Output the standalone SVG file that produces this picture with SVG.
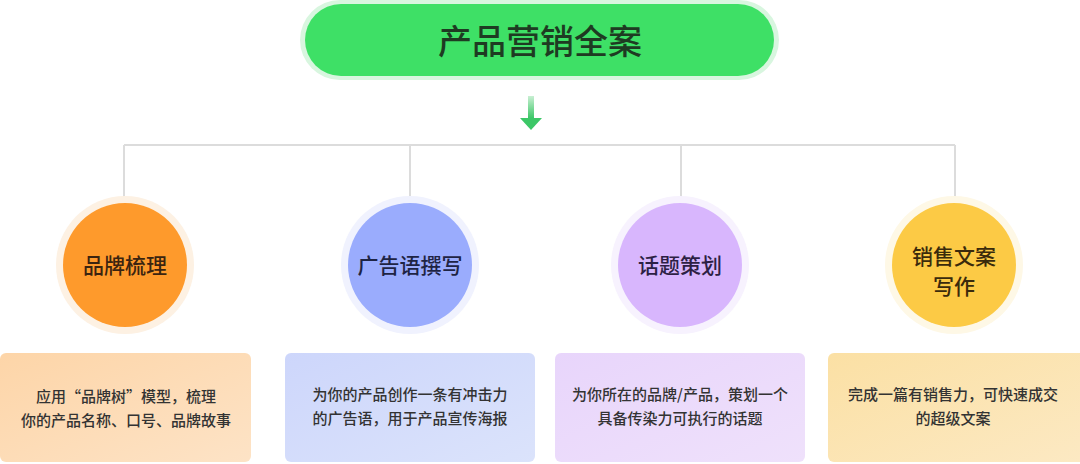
<svg xmlns="http://www.w3.org/2000/svg" width="1080" height="464" viewBox="0 0 1080 464">
<defs>
<style>
.cjk{font-family:"Noto Sans CJK SC","Noto Sans",sans-serif;}
.title{font-size:34px;font-weight:500;fill:#1e3b22;text-anchor:middle;}
.ctext{font-size:21px;font-weight:500;text-anchor:middle;}
.btext{font-size:15px;font-weight:500;fill:#333333;text-anchor:middle;}
.conn{stroke:#dcdcdc;stroke-width:2;fill:none;}
</style>
<linearGradient id="arrowG" x1="0" y1="0" x2="0" y2="1">
<stop offset="0" stop-color="#c9efd3"/>
<stop offset="1" stop-color="#3cc767"/>
</linearGradient>
<linearGradient id="b1" x1="0" y1="0" x2="1" y2="1">
<stop offset="0" stop-color="#fdd5a8"/>
<stop offset="1" stop-color="#fde3c6"/>
</linearGradient>
<linearGradient id="b2" x1="0" y1="0" x2="1" y2="1">
<stop offset="0" stop-color="#cdd6fb"/>
<stop offset="1" stop-color="#dbe3fb"/>
</linearGradient>
<linearGradient id="b3" x1="0" y1="0" x2="1" y2="1">
<stop offset="0" stop-color="#e8d5fb"/>
<stop offset="1" stop-color="#efe1fb"/>
</linearGradient>
<linearGradient id="b4" x1="0" y1="0" x2="1" y2="1">
<stop offset="0" stop-color="#fbe0a4"/>
<stop offset="1" stop-color="#fce9c3"/>
</linearGradient>
</defs>

<g id="connectors">
<path class="conn" d="M124,145 H955"/>
<path class="conn" d="M124,145 V198"/>
<path class="conn" d="M410,145 V198"/>
<path class="conn" d="M681,145 V198"/>
<path class="conn" d="M955,145 V198"/>
<g id="arrow">
<rect x="528" y="96" width="6" height="22" fill="url(#arrowG)"/>
<polygon points="520,118 542,118 531,130" fill="#3cc767"/>
</g>
</g>

<g id="title-node">
<rect x="300" y="0" width="479" height="80" rx="40" fill="#d8f6df"/>
<rect x="305" y="4" width="469" height="72" rx="36" fill="#3ee066"/>
<text class="cjk title" x="540" y="54">产品营销全案</text>
</g>

<g id="node-brand">
<circle cx="125" cy="265" r="69" fill="#fdf1e3"/>
<circle cx="125" cy="265" r="62" fill="#fe9a2c"/>
<text class="cjk ctext" x="125" y="273" fill="#3b2410">品牌梳理</text>
</g>
<g id="node-slogan">
<circle cx="410" cy="265" r="69" fill="#f0f2fe"/>
<circle cx="410" cy="265" r="62" fill="#9aacfd"/>
<text class="cjk ctext" x="410" y="273" fill="#1e2444">广告语撰写</text>
</g>
<g id="node-topic">
<circle cx="680" cy="265" r="69" fill="#f7f2fe"/>
<circle cx="680" cy="265" r="62" fill="#d8b6fd"/>
<text class="cjk ctext" x="680" y="273" fill="#2d1f44">话题策划</text>
</g>
<g id="node-sales">
<circle cx="954" cy="265" r="69" fill="#fef8e6"/>
<circle cx="954" cy="265" r="62" fill="#fcca45"/>
<text class="cjk ctext" x="954" y="264" fill="#3a2a0c">销售文案</text>
<text class="cjk ctext" x="954" y="294" fill="#3a2a0c">写作</text>
</g>

<g id="box-brand">
<rect x="0" y="353" width="251" height="109" rx="6" fill="url(#b1)"/>
<text class="cjk btext" x="126" y="402">应用“品牌树”模型，梳理</text>
<text class="cjk btext" x="126" y="426">你的产品名称、口号、品牌故事</text>
</g>
<g id="box-slogan">
<rect x="285" y="353" width="250" height="109" rx="6" fill="url(#b2)"/>
<text class="cjk btext" x="410" y="400">为你的产品创作一条有冲击力</text>
<text class="cjk btext" x="410" y="424">的广告语，用于产品宣传海报</text>
</g>
<g id="box-topic">
<rect x="555" y="353" width="250" height="109" rx="6" fill="url(#b3)"/>
<text class="cjk btext" x="680" y="400">为你所在的品牌/产品，策划一个</text>
<text class="cjk btext" x="680" y="424">具备传染力可执行的话题</text>
</g>
<g id="box-sales">
<rect x="828" y="353" width="258" height="109" rx="6" fill="url(#b4)"/>
<text class="cjk btext" x="953" y="400">完成一篇有销售力，可快速成交</text>
<text class="cjk btext" x="953" y="424">的超级文案</text>
</g>
</svg>
